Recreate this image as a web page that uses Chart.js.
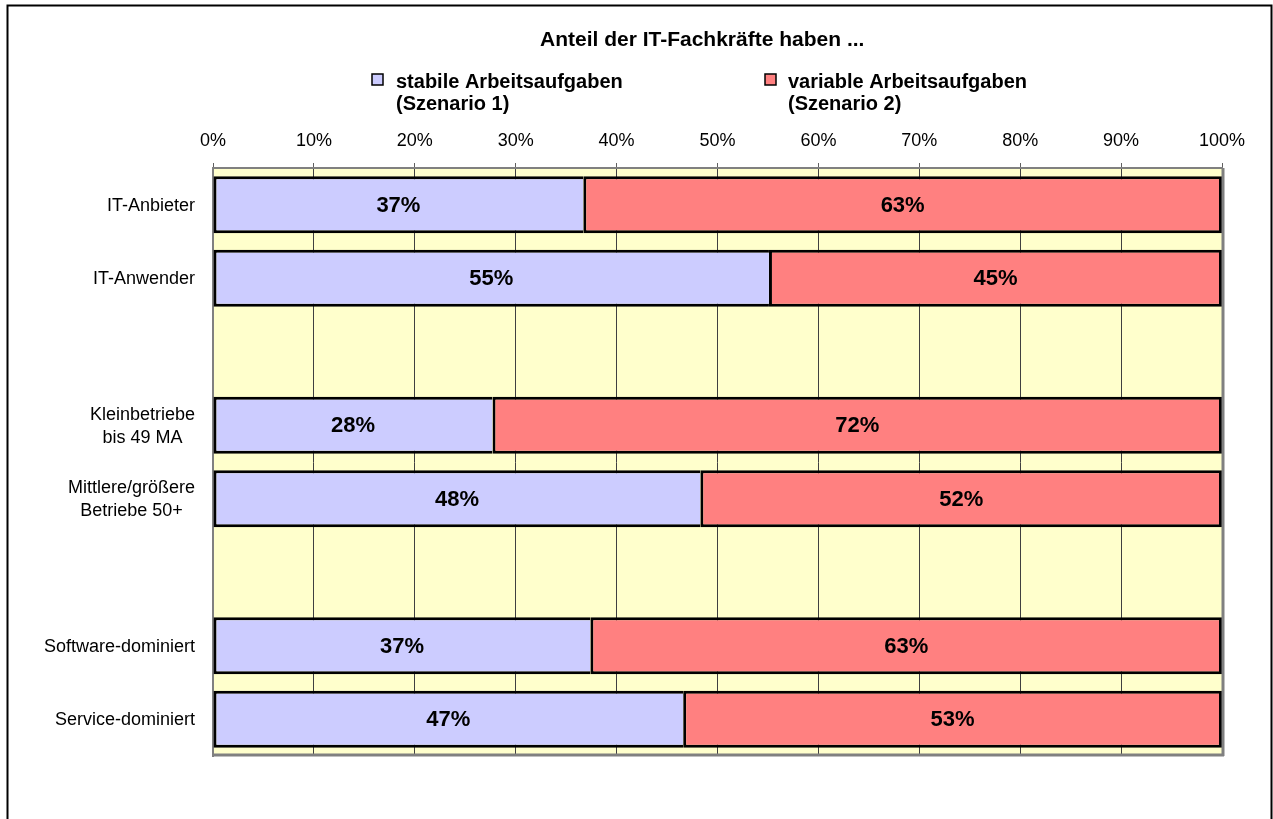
<!DOCTYPE html>
<html>
<head>
<meta charset="utf-8">
<script src="https://cdn.jsdelivr.net/npm/chart.js@4.4.1/dist/chart.umd.min.js"></script>
<style>
    body { margin: 0; background: #ffffff; }
    #wrap { width: 1273px; height: 819px; }
</style>
</head>
<body>
<div id="wrap"><canvas id="shareChart" width="1273" height="819"></canvas></div>
<script>
    var categories = ['IT-Anbieter', 'IT-Anwender', '', ['Kleinbetriebe', 'bis 49 MA'], ['Mittlere/größere', 'Betriebe 50+'], '', 'Software-dominiert', 'Service-dominiert'];
    var stabile = [36.7, 55.1, null, 27.7, 48.3, null, 37.4, 46.6];
    var variable = [63.3, 44.9, null, 72.3, 51.7, null, 62.6, 53.4];
    var xTicks = [0, 10, 20, 30, 40, 50, 60, 70, 80, 90, 100];
    var chartTitle = 'Anteil der IT-Fachkräfte haben ...';
    var seriesNames = [['stabile Arbeitsaufgaben', '(Szenario 1)'], ['variable Arbeitsaufgaben', '(Szenario 2)']];
    var seriesColors = ['#ccccff', '#ff8080'];

    var fontFam = 'Arial, "Liberation Sans", sans-serif';

    // background of the plot, frame, title, legend and category labels
    var decoPlugin = {
        id: 'deco',
        beforeDraw: function(chart) {
            var ctx = chart.ctx;
            var a = chart.chartArea;
            ctx.save();
            ctx.fillStyle = '#ffffcc';
            ctx.fillRect(a.left, a.top, a.right - a.left, a.bottom - a.top);
            ctx.restore();
        },
        afterDraw: function(chart) {
            var ctx = chart.ctx;
            var a = chart.chartArea;
            ctx.save();
            // shadow on bottom and right of plot
            ctx.strokeStyle = '#808080';
            ctx.lineWidth = 3;
            ctx.beginPath();
            ctx.moveTo(a.left, a.bottom - 1);
            ctx.lineTo(a.right + 2, a.bottom - 1);
            ctx.moveTo(a.right + 1, a.top);
            ctx.lineTo(a.right + 1, a.bottom);
            ctx.stroke();

            // outer frame
            ctx.strokeStyle = '#000000';
            ctx.lineWidth = 2;
            ctx.strokeRect(7.5, 5.5, 1264, 830);

            // title
            ctx.fillStyle = '#000000';
            ctx.font = 'bold 21px ' + fontFam;
            ctx.textAlign = 'left';
            ctx.textBaseline = 'alphabetic';
            ctx.fillText(chartTitle, 540, 46);

            // legend
            var boxX = [372, 765];
            var textX = [396, 788];
            ctx.font = 'bold 20px ' + fontFam;
            for (var i = 0; i < seriesNames.length; i++) {
                ctx.fillStyle = seriesColors[i];
                ctx.fillRect(boxX[i], 74, 11, 11);
                ctx.strokeStyle = '#000000';
                ctx.lineWidth = 1.5;
                ctx.strokeRect(boxX[i], 74, 11, 11);
                ctx.fillStyle = '#000000';
                ctx.fillText(seriesNames[i][0], textX[i], 88);
                ctx.fillText(seriesNames[i][1], textX[i], 110);
            }

            // category labels, wrapped lines centred on each other
            var yScale = chart.scales.y;
            ctx.font = '18px ' + fontFam;
            ctx.textAlign = 'center';
            ctx.textBaseline = 'middle';
            categories.forEach(function(lab, i) {
                var lines = Array.isArray(lab) ? lab : [lab];
                var maxW = 0;
                lines.forEach(function(ln) { maxW = Math.max(maxW, ctx.measureText(ln).width); });
                var cx = 195 - maxW / 2;
                var cy = yScale.getPixelForValue(i);
                lines.forEach(function(ln, j) {
                    ctx.fillText(ln, cx, cy + 1 + (j - (lines.length - 1) / 2) * 23);
                });
            });
            ctx.restore();
        }
    };

    // percentage labels inside the bars
    var valueLabels = {
        id: 'valueLabels',
        afterDatasetsDraw: function(chart) {
            var ctx = chart.ctx;
            ctx.save();
            ctx.font = 'bold 22px ' + fontFam;
            ctx.fillStyle = '#000000';
            ctx.textAlign = 'center';
            ctx.textBaseline = 'middle';
            chart.data.datasets.forEach(function(ds, di) {
                var meta = chart.getDatasetMeta(di);
                meta.data.forEach(function(bar, i) {
                    var v = ds.data[i];
                    if (v === null || v === undefined) return;
                    var cx = (bar.x + bar.base) / 2;
                    ctx.fillText(Math.round(v) + '%', cx, bar.y + 1);
                });
            });
            ctx.restore();
        }
    };

    var ctx = document.getElementById('shareChart').getContext('2d');
    var shareChart = new Chart(ctx, {
        type: 'bar',
        data: {
            labels: categories,
            datasets: [{
                label: seriesNames[0].join(' '),
                data: stabile,
                backgroundColor: seriesColors[0],
                borderColor: '#000000',
                borderWidth: { left: 3, top: 3, bottom: 3, right: 0 },
                borderSkipped: false
            }, {
                label: seriesNames[1].join(' '),
                data: variable,
                backgroundColor: seriesColors[1],
                borderColor: '#000000',
                borderWidth: 3,
                borderSkipped: false
            }]
        },
        options: {
            indexAxis: 'y',
            responsive: false,
            animation: false,
            layout: {
                padding: { left: 0, top: 108, right: 51, bottom: 63 }
            },
            datasets: {
                bar: {
                    categoryPercentage: 1.0,
                    barPercentage: 0.775
                }
            },
            scales: {
                x: {
                    position: 'top',
                    stacked: true,
                    min: 0,
                    max: 100,
                    afterFit: function(scale) { scale.height = 60; },
                    afterBuildTicks: function(scale) {
                        scale.ticks = xTicks.map(function(v) { return { value: v }; });
                    },
                    ticks: {
                        color: '#000000',
                        padding: 11,
                        maxRotation: 0,
                        font: { size: 18, family: fontFam },
                        callback: function(v) { return v + '%'; }
                    },
                    grid: {
                        color: '#404040',
                        lineWidth: 1,
                        tickLength: 5,
                        tickColor: '#606060'
                    },
                    border: { display: true, color: '#808080', width: 2 }
                },
                y: {
                    stacked: true,
                    afterFit: function(scale) { scale.width = 213; },
                    ticks: { display: false },
                    grid: { display: false },
                    border: { display: true, color: '#808080', width: 2 }
                }
            },
            plugins: {
                legend: { display: false },
                title: { display: false },
                tooltip: { enabled: false }
            }
        },
        plugins: [decoPlugin, valueLabels]
    });
</script>
</body>
</html>
